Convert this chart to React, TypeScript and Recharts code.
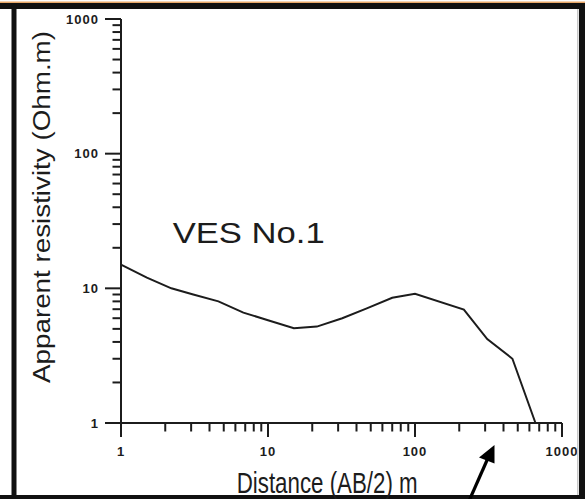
import React from "react";
import { LineChart, Line, XAxis, YAxis } from "recharts";

// VES No.1 sounding curve: half electrode spacing AB/2 (m) vs apparent resistivity (Ohm.m)
const distance = [1, 1.5, 2.2, 3.1, 4.6, 6.8, 10, 15, 21.5, 32, 47, 70, 100, 215, 310, 460, 660];
const resistivity = [15, 12, 10, 9, 8, 6.6, 5.8, 5.05, 5.2, 6, 7.1, 8.5, 9.1, 6.95, 4.2, 3, 1];

// log-decade tick labels and the minor multiples between them
const decadeTicks = [1, 10, 100, 1000];
const minorMultiples = [2, 3, 4, 5, 6, 7, 8, 9];

const logTicks: number[] = [];
decadeTicks.forEach((d, i) => {
  logTicks.push(d);
  if (i < decadeTicks.length - 1) minorMultiples.forEach((m) => logTicks.push(d * m));
});

const rows = distance.map((x, i) => ({ x, rho: resistivity[i] }));

const W = 585;
const H = 499;
const FONT = "'Liberation Sans', Arial, sans-serif";
const INK = "#1c1c1c";

const isDecade = (v: number) => decadeTicks.includes(v);

function XTick(props: any) {
  const { x, y, payload } = props;
  const major = isDecade(payload.value);
  return (
    <g>
      <line x1={x} x2={x} y1={y} y2={y + (major ? 14 : 8.5)} stroke={INK} strokeWidth={2} />
      {major && (
        <text
          x={x}
          y={y + 33}
          textAnchor="middle"
          fontFamily={FONT}
          fontSize={13}
          fontWeight="bold"
          letterSpacing={1}
          fill={INK}
        >
          {payload.value}
        </text>
      )}
    </g>
  );
}

function YTick(props: any) {
  const { x, y, payload } = props;
  const major = isDecade(payload.value);
  return (
    <g>
      <line x1={x - (major ? 16 : 8.5)} x2={x} y1={y} y2={y} stroke={INK} strokeWidth={2} />
      {major && (
        <text
          x={x - 22}
          y={y + 4.6}
          textAnchor="end"
          fontFamily={FONT}
          fontSize={13}
          fontWeight="bold"
          letterSpacing={1}
          fill={INK}
        >
          {payload.value}
        </text>
      )}
    </g>
  );
}

export default function App() {
  return (
    <div style={{ position: "absolute", left: 0, top: 0, width: W, height: H, background: "#fff" }}>
      <LineChart
        width={W}
        height={H}
        data={rows}
        margin={{ top: 19, right: 23, bottom: 0, left: 0 }}
      >
        <XAxis
          dataKey="x"
          type="number"
          scale="log"
          domain={[1, 1000]}
          ticks={logTicks}
          interval={0}
          height={76}
          tickSize={0}
          tickMargin={0}
          tick={<XTick />}
          axisLine={{ stroke: INK, strokeWidth: 2 }}
        />
        <YAxis
          dataKey="rho"
          type="number"
          scale="log"
          domain={[1, 1000]}
          ticks={logTicks}
          interval={0}
          width={121}
          tickSize={0}
          tickMargin={0}
          tick={<YTick />}
          axisLine={{ stroke: INK, strokeWidth: 2 }}
        />
        <Line
          type="linear"
          dataKey="rho"
          stroke={INK}
          strokeWidth={2}
          dot={false}
          isAnimationActive={false}
        />
      </LineChart>

      <svg
        width={W}
        height={H}
        style={{ position: "absolute", left: 0, top: 0, pointerEvents: "none" }}
      >
        {/* page frame */}
        <rect x={0} y={1.5} width={W} height={1.5} fill="#e9a868" />
        <rect x={0} y={3} width={W} height={6} fill="#111" />
        <rect x={11.5} y={3} width={5} height={H - 3} fill="#111" />
        <rect x={579} y={3} width={6} height={H - 3} fill="#111" />
        <rect x={577} y={9} width={1.5} height={H - 9} fill="#c8c8c8" />
        <rect x={0} y={495} width={W} height={4} fill="#111" />

        {/* titles */}
        <text
          x={172.7}
          y={243.3}
          fontFamily={FONT}
          fontSize={30}
          textLength={152}
          lengthAdjust="spacingAndGlyphs"
          fill={INK}
        >
          VES No.1
        </text>
        <text
          x={236.7}
          y={492.5}
          fontFamily={FONT}
          fontSize={29}
          textLength={181}
          lengthAdjust="spacingAndGlyphs"
          fill={INK}
        >
          Distance (AB/2) m
        </text>
        <text
          transform="translate(50,383) rotate(-90)"
          x={0}
          y={0}
          fontFamily={FONT}
          fontSize={23}
          textLength={352}
          lengthAdjust="spacingAndGlyphs"
          fill={INK}
        >
          Apparent resistivity (Ohm.m)
        </text>

        {/* pointer arrow */}
        <line x1={469} y1={501} x2={488} y2={458} stroke="#000" strokeWidth={3.2} />
        <polygon points="494.5,445 479,457.5 494.5,463.5" fill="#000" />
      </svg>
    </div>
  );
}
